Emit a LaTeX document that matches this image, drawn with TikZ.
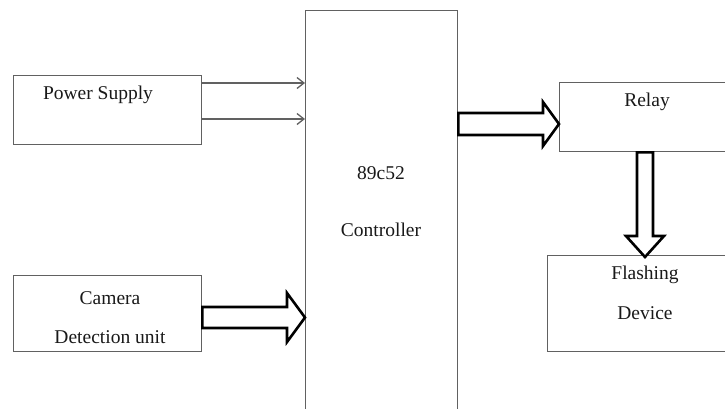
\documentclass[tikz,border=0pt]{standalone}
\usepackage{fontspec}
\setmainfont{Liberation Serif}
\usetikzlibrary{calc,arrows.meta}
\begin{document}
\begin{tikzpicture}[x=1pt,y=-1pt,
  box/.style={draw=black!62, line width=1.3pt, rectangle, inner sep=0pt, anchor=north west},
  lab/.style={font=\fontsize{19.5}{21}\selectfont, text=black!90, inner sep=0pt},
  blockarrow/.style={draw=black, line width=2.6pt, fill=white, line join=miter},
  thinarrow/.style={draw=black!62, line width=1.3pt, -{Straight Barb[length=7pt,width=11pt,line width=1.3pt]}}]
\useasboundingbox (0,0) rectangle (725,408);
% boxes
\node[box, minimum width=188pt, minimum height=69pt] (ps) at (13,75) {};
\node[box, minimum width=188pt, minimum height=76pt] (cam) at (13,275) {};
\node[box, minimum width=152pt, minimum height=410pt] (ctrl) at (305,10) {};
\node[box, minimum width=170pt, minimum height=69pt] (relay) at (559,82) {};
\node[box, minimum width=182pt, minimum height=96pt] (flash) at (547,255) {};
% labels
\node[lab] (tps) at (98,95) {Power Supply};
\node[lab] (tcam1) at (110,298) {Camera};
\node[lab] (tcam2) at (110,337) {Detection unit};
\node[lab] (tc1) at (381,173) {89c52};
\node[lab] (tc2) at (381,230) {Controller};
\node[lab] (trel) at (647,102) {Relay};
\node[lab] (tfl1) at (645,275) {Flashing};
\node[lab] (tfl2) at (645,313) {Device};
% thin arrows from power supply
\coordinate (pa) at ($(ps.north east)+(0,8)$);
\coordinate (pb) at ($(ps.north east)+(0,44)$);
\draw[thinarrow] (pa) -- (ctrl.west |- pa);
\draw[thinarrow] (pb) -- (ctrl.west |- pb);
% block arrow camera -> controller
\coordinate (tipC) at (ctrl.west |- 0,317.5);
\draw[blockarrow] (tipC) -- ++(-18,-24.5) -- ++(0,14) -- (cam.east |- 0,307) -- (cam.east |- 0,328) -- ($(tipC)+(-18,10.5)$) -- ++(0,14) -- cycle;
% block arrow controller -> relay
\coordinate (tipR) at (relay.west |- 0,124);
\draw[blockarrow] (tipR) -- ++(-16,-22) -- ++(0,11) -- (ctrl.east |- 0,113) -- (ctrl.east |- 0,135) -- ($(tipR)+(-16,11)$) -- ++(0,11) -- cycle;
% block arrow relay -> flashing
\coordinate (tipF) at (645,257);
\draw[blockarrow] (tipF) -- ++(-19,-21) -- ++(11,0) -- (637,0 |- relay.south) -- (653,0 |- relay.south) -- ($(tipF)+(8,-21)$) -- ++(11,0) -- cycle;
\end{tikzpicture}
\end{document}
